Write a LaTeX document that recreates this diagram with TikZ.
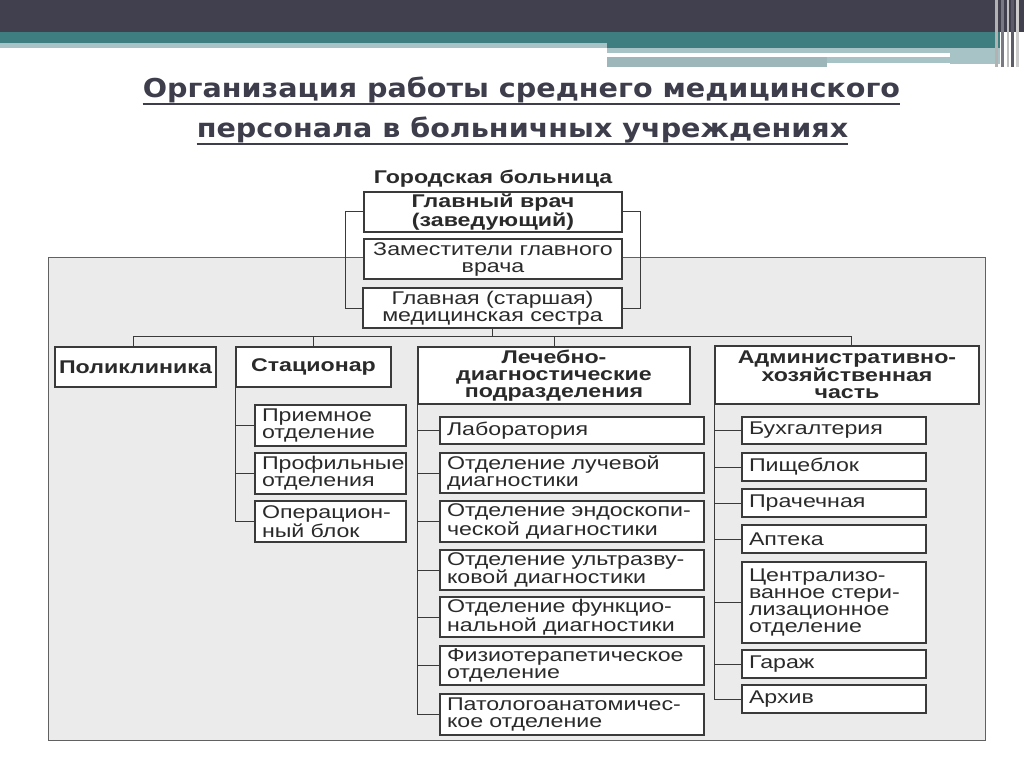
\documentclass[tikz,border=0pt]{standalone}
\usepackage{fontspec}
\setmainfont{Liberation Sans}
\newfontfamily\boxfont{Liberation Sans}[FakeStretch=1.26]
\newfontfamily\titlefont{DejaVu Sans}[FakeStretch=1.1]
\definecolor{hdark}{HTML}{40404F}
\definecolor{hteal}{HTML}{3F7E80}
\definecolor{hlight}{HTML}{A7C3C6}
\definecolor{hgt}{HTML}{9DB6BA}
\definecolor{titlecol}{HTML}{3D3D4B}
\definecolor{panel}{HTML}{EBEBEB}
\definecolor{boxline}{HTML}{3A3A3A}
\definecolor{txt}{HTML}{2A2A2A}
\tikzset{
  box/.style={draw=boxline, line width=1.1pt, fill=white, inner sep=0pt,
    font=\boxfont\fontsize{18.4}{17}\selectfont, text=txt, align=center},
  hbox/.style={box, font=\boxfont\bfseries\fontsize{18.4}{17}\selectfont},
  wire/.style={draw=boxline, line width=1pt},
  titletext/.style={font=\titlefont\bfseries\fontsize{26}{30}\selectfont, text=titlecol, inner sep=0pt, anchor=base},
  uline/.style={draw=titlecol, line width=2pt}
}
\newcommand\bx[7]{%
  \node[#6,minimum width={(#4-#2)*1pt},minimum height={(#5-#3)*1pt}] (#1) at ({(#2+#4)/2},{(#3+#5)/2}) {#7};}
\newcommand\lbx[6]{%
  \node[box,align=left,text width={(#4-#2-14)*1pt},minimum width={(#4-#2)*1pt},minimum height={(#5-#3)*1pt}] (#1) at ({(#2+#4)/2},{(#3+#5)/2}) {#6};}
\begin{document}
\begin{tikzpicture}[x=1pt,y=-1pt]
\useasboundingbox (0,0) rectangle (1024,767);
\fill[white] (0,0) rectangle (1024,767);
% header band
\fill[hdark] (0,0) rectangle (1024,32);
\fill[hteal] (0,32) rectangle (1000,48);
\fill[hlight] (0,43) rectangle (607,48);
\fill[hlight] (607,48) rectangle (1000,53);
\fill[hgt] (607,57) rectangle (827,67);
\fill[hlight] (827,57) rectangle (950,63);
\fill[hlight] (950,48) rectangle (1000,64);
\fill[gray!60] (995,0) rectangle (998,67);
\fill[hdark!70] (1001,0) rectangle (1004,67);
\fill[gray!50] (1007,0) rectangle (1009,67);
\fill[hdark!85] (1011,0) rectangle (1014,67);
\fill[gray!40] (1016,0) rectangle (1019,67);
% title
\node[titletext] (t1) at (521.5,98) {Организация работы среднего медицинского};
\node[titletext] (t2) at (522.5,138) {персонала в больничных учреждениях};
\draw[uline] ([yshift=-6pt]t1.base west) -- ([yshift=-6pt]t1.base east);
\draw[uline] ([yshift=-6pt]t2.base west) -- ([yshift=-6pt]t2.base east);
% panel
\filldraw[fill=panel, draw=boxline!80, line width=1pt] (48,257) rectangle (985,740);
% top
\node[font=\boxfont\bfseries\fontsize{18.4}{17}\selectfont, text=txt, anchor=base, inner sep=0pt] (city) at (493,184) {Городская больница};
\bx{gl}{364}{192}{622}{232}{hbox}{Главный врач\\(заведующий)}
\bx{zam}{364}{239}{622}{279}{box}{Заместители главного\\врача}
\bx{ses}{363}{288}{622}{328}{box}{Главная (старшая)\\медицинская сестра}
\draw[wire] (gl.west) -- ++(-18,0) |- (ses.west);
\draw[wire] (gl.east) -- ++(18,0) |- (ses.east);
% second level
\bx{pol}{55}{347}{216}{387}{hbox}{Поликлиника}
\bx{sta}{236}{347}{391}{387}{hbox}{Стационар}
\bx{leg}{418}{347}{690}{404}{hbox}{Лечебно-\\диагностические\\подразделения}
\bx{adm}{715}{346}{979}{404}{hbox}{Административно-\\хозяйственная\\часть}
\coordinate (busL) at (133,336);
\coordinate (busR) at (851,336);
\draw[wire] (ses.south) -- (ses.south |- busL);
\draw[wire] (busL) -- (busR) -- (busR |- adm.north);
\draw[wire] (busL) -- (busL |- pol.north);
\draw[wire] (sta.north |- busL) -- (sta.north);
\draw[wire] (leg.north |- busL) -- (leg.north);
% stacionar
\lbx{s1}{255}{405}{406}{446}{Приемное\\отделение}
\lbx{s2}{255}{453}{406}{494}{Профильные\\отделения}
\lbx{s3}{255}{501}{406}{542}{Операцион-\\ный блок}
\draw[wire] (sta.south west) |- (s3.west);
\draw[wire] (sta.south west |- s1.west) -- (s1.west);
\draw[wire] (sta.south west |- s2.west) -- (s2.west);
% lechebno
\lbx{l1}{440}{417}{704}{444}{Лаборатория}
\lbx{l2}{440}{453}{704}{493}{Отделение лучевой\\диагностики}
\lbx{l3}{440}{501}{704}{542}{Отделение эндоскопи-\\ческой диагностики}
\lbx{l4}{440}{550}{704}{590}{Отделение ультразву-\\ковой диагностики}
\lbx{l5}{440}{597}{704}{637}{Отделение функцио-\\нальной диагностики}
\lbx{l6}{440}{646}{704}{685}{Физиотерапетическое\\отделение}
\lbx{l7}{440}{694}{704}{735}{Патологоанатомичес-\\кое отделение}
\draw[wire] (leg.south west) |- (l7.west);
\foreach \n in {l1,l2,l3,l4,l5,l6}
  \draw[wire] (leg.south west |- \n.west) -- (\n.west);
% admin
\lbx{a1}{742}{417}{926}{444}{Бухгалтерия}
\lbx{a2}{742}{453}{926}{481}{Пищеблок}
\lbx{a3}{742}{489}{926}{517}{Прачечная}
\lbx{a4}{742}{525}{926}{553}{Аптека}
\lbx{a5}{742}{562}{926}{643}{Централизо-\\ванное стери-\\лизационное\\отделение}
\lbx{a6}{742}{650}{926}{678}{Гараж}
\lbx{a7}{742}{685}{926}{713}{Архив}
\draw[wire] (adm.south west) |- (a7.west);
\foreach \n in {a1,a2,a3,a4,a5,a6}
  \draw[wire] (adm.south west |- \n.west) -- (\n.west);
\end{tikzpicture}
\end{document}
